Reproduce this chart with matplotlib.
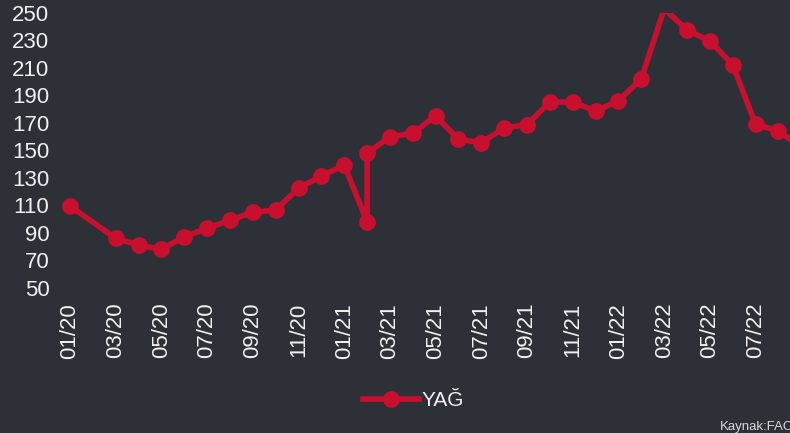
import matplotlib.pyplot as plt

# FAO yag fiyat endeksi (aylik), 02/21 iki kez var
months = ["2020-01", "2020-03", "2020-04", "2020-05", "2020-06", "2020-07",
          "2020-08", "2020-09", "2020-10", "2020-11", "2020-12", "2021-01",
          "2021-02", "2021-02", "2021-03", "2021-04", "2021-05", "2021-06",
          "2021-07", "2021-08", "2021-09", "2021-10", "2021-11", "2021-12",
          "2022-01", "2022-02", "2022-03", "2022-04", "2022-05", "2022-06",
          "2022-07", "2022-08", "2022-09"]
yag = [109.4, 85.8, 81.0, 77.8, 87.0, 93.1,
       99.0, 104.8, 106.4, 122.3, 131.2, 139.2,
       97.9, 147.7, 159.8, 162.3, 175.1, 157.9,
       155.5, 166.2, 168.6, 185.1, 185.1, 178.5,
       186.1, 201.9, 253.0, 237.5, 229.5, 212.1,
       168.9, 164.0, 152.0]
tick_labels = ["01/20", "03/20", "05/20", "07/20", "09/20", "11/20",
               "01/21", "03/21", "05/21", "07/21", "09/21", "11/21",
               "01/22", "03/22", "05/22", "07/22", "09/22"]
y_ticks = list(range(50, 251, 20))
y_max = 250

bg = "#2e3037"
red = "#c8102e"
txt = "#f0f0f0"

plt.rcParams["font.family"] = ["Liberation Sans", "DejaVu Sans"]


def month_index(s):
    y, m = s.split("-")
    return (int(y) - 2020) * 12 + int(m) - 1


x = [month_index(m) for m in months]
tick_pos = [2 * i for i in range(len(tick_labels))]
# eksen disindaki noktalarda isaret yok (Excel gibi)
marks = [i for i, v in enumerate(yag) if v <= y_max]

fig = plt.figure(figsize=(7.9, 4.33), dpi=100, facecolor=bg)
ax = fig.add_axes([55 / 790, 0.336, 792 / 790, 0.6342])
ax.set_facecolor(bg)

ax.plot(x, yag, color=red, lw=4, marker="o", ms=11, markevery=marks,
        label="YAĞ")

ax.set_xlim(-0.656, 34)
ax.set_ylim(50, y_max)
ax.set_yticks(y_ticks)
ax.set_xticks(tick_pos)
ax.set_xticklabels(tick_labels, rotation=90)
ax.tick_params(axis="both", length=0, colors=txt, labelsize=16)
ax.tick_params(axis="x", pad=11)
ax.tick_params(axis="y", pad=4)
for s in ax.spines.values():
    s.set_visible(False)

fig.legend(loc="center", bbox_to_anchor=(413.5 / 790, 1 - 400.7 / 433),
           frameon=False, fontsize=15, labelcolor=txt, handlelength=2.7,
           handletextpad=0.1, borderpad=0)

fig.text(720 / 790, 1 - 430 / 433, "Kaynak:FAO", color="#d9d9d9",
         fontsize=9.5, ha="left", va="baseline")

fig.savefig("out.png", dpi=100, facecolor=bg)
